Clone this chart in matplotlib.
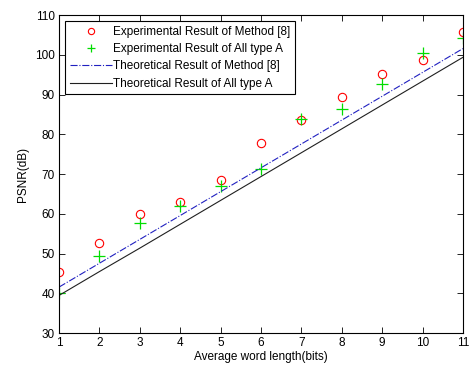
import matplotlib
matplotlib.use("Agg")
import matplotlib.pyplot as plt

# data
wordLen = [1, 2, 3, 4, 5, 6, 7, 8, 9, 10, 11]
expMethod8 = [45.3, 52.6, 59.9, 63.0, 68.5, 77.8, 83.7, 89.3, 95.3, 98.7, 105.7]
expAllA = [40.2, 49.3, 57.8, 62.0, 67.0, 71.2, 83.8, 86.3, 92.8, 100.4, 104.2]
theoMethod8 = [41.6, 47.6, 53.6, 59.6, 65.6, 71.6, 77.6, 83.6, 89.6, 95.6, 101.6]
theoAllA = [39.5, 45.5, 51.4, 57.4, 63.4, 69.4, 75.4, 81.4, 87.4, 93.4, 99.4]

plt.rcParams['font.family'] = ['Liberation Sans', 'DejaVu Sans']
plt.rcParams['font.size'] = 8.5

fig = plt.figure(figsize=(4.69, 3.71), dpi=100)
ax = fig.add_axes([0.126, 0.102, 0.861, 0.857])

ax.plot(wordLen, expMethod8, 'o', mfc='none', mec='red', ms=6, mew=0.8,
        label="Experimental Result of Method [8]")
ax.plot(wordLen, expAllA, '+', color='#00dd00', ms=8, mew=0.9,
        label="Experimental Result of All type A")
ax.plot(wordLen, theoMethod8, '-.', color='#2020c0', lw=0.8,
        label="Theoretical Result of Method [8]")
ax.plot(wordLen, theoAllA, '-', color='#202020', lw=0.8,
        label="Theoretical Result of All type A")

ax.set_xlim(1, 11)
ax.set_ylim(30, 110)
ax.set_xticks(range(1, 12))
ax.set_yticks(range(30, 111, 10))
ax.tick_params(direction='in', top=True, right=True, length=4, width=0.6, pad=3)
for s in ax.spines.values():
    s.set_linewidth(0.8)

ax.set_xlabel("Average word length(bits)", labelpad=1)
ax.set_ylabel("PSNR(dB)", labelpad=4)

leg = ax.legend(loc='upper left', fancybox=False, framealpha=1, edgecolor='black',
                fontsize=8.5, handlelength=3.6, handletextpad=0.1, markerscale=0.75,
                borderaxespad=0.5, labelspacing=0.45, borderpad=0.4)
leg.get_frame().set_linewidth(0.8)

fig.savefig("out.png", dpi=100)
